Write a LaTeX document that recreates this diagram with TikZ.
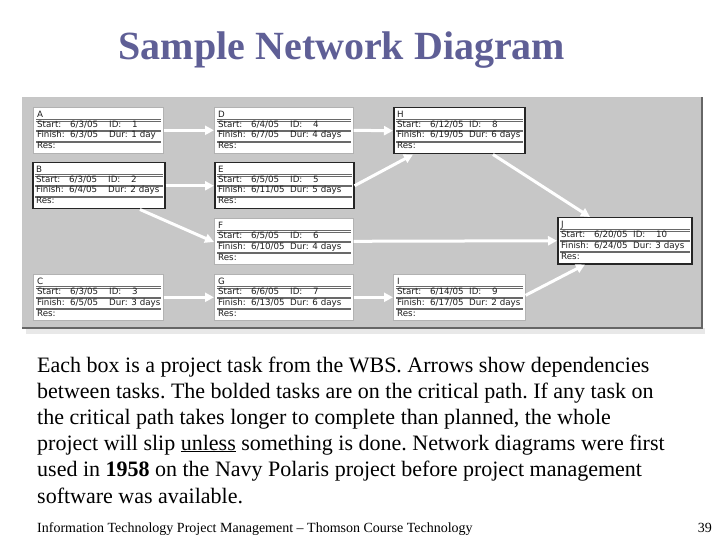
\documentclass[tikz,border=0pt]{standalone}
\usepackage{fontspec}
\setmainfont{Liberation Serif}
\newfontfamily\boxfont{DejaVu Sans}
\usetikzlibrary{arrows.meta}
\definecolor{titleblue}{RGB}{95,95,150}
\definecolor{panelgray}{RGB}{199,199,199}
\definecolor{boxtext}{RGB}{30,30,30}
\definecolor{sepgray}{RGB}{105,105,105}
\tikzset{
  taskframe/.style={draw=gray!60, line width=0.6pt, fill=white, minimum height=46pt, inner sep=0pt},
  critical/.style={draw=black!85, line width=1.5pt},
  boxtxt/.style={anchor=base west, inner sep=0pt, text=boxtext, font=\boxfont\fontsize{8.7}{10}\selectfont},
  sepline/.style={draw=sepgray, line width=0.5pt},
  arr/.style={draw=white, line width=3pt, -{Triangle[width=9pt,length=9pt]}},
  body/.style={anchor=base west, inner sep=0pt, font=\frenchspacing\fontsize{22}{24}\selectfont},
}
\newcommand\taskbox[9][]{%
  \node[taskframe,#1,minimum width=#4,anchor=north west] (#2) at #3 {};
  \node[boxtxt] (#2-l) at ([shift={(4,10.6)}]#2.north west) {#5};
  \draw[sepline] ([shift={(3,12.6)}]#2.north west) -- ([shift={(-3,12.6)}]#2.north east);
  \draw[sepline] ([shift={(3,13.8)}]#2.north west) -- ([shift={(-3,13.8)}]#2.north east);
  \node[boxtxt] (#2-s) at ([shift={(4,20.4)}]#2.north west) {Start:};
  \node[boxtxt] (#2-sd) at ([shift={(37,20.4)}]#2.north west) {#6};
  \node[boxtxt] (#2-i) at ([shift={(76,20.4)}]#2.north west) {ID:};
  \node[boxtxt] (#2-iv) at ([shift={(99,20.4)}]#2.north west) {#7};
  \draw[sepline] ([shift={(3,23)}]#2.north west) -- ([shift={(-3,23)}]#2.north east);
  \draw[sepline] ([shift={(3,24.2)}]#2.north west) -- ([shift={(-3,24.2)}]#2.north east);
  \node[boxtxt] (#2-f) at ([shift={(4,31)}]#2.north west) {Finish:};
  \node[boxtxt] (#2-fd) at ([shift={(37,31)}]#2.north west) {#8};
  \node[boxtxt] (#2-d) at ([shift={(76,31)}]#2.north west) {Dur: #9};
  \draw[sepline] ([shift={(3,34)}]#2.north west) -- ([shift={(-3,34)}]#2.north east);
  \draw[sepline] ([shift={(3,35.2)}]#2.north west) -- ([shift={(-3,35.2)}]#2.north east);
  \node[boxtxt] (#2-r) at ([shift={(4,42)}]#2.north west) {Res:};
}
\begin{document}
\begin{tikzpicture}[x=1pt,y=-1pt]
\useasboundingbox[fill=white] (0,0) rectangle (720,540);
% title
\node[anchor=base, inner sep=0pt, text=titleblue, font=\bfseries\fontsize{40}{42}\selectfont] (title) at (342,60) {Sample Network Diagram};
% panel
\fill[gray!18] (26,328) rectangle (705,334);
\fill[panelgray] (22,97) rectangle (702,328);
\draw[gray!45, line width=0.8pt] (22,328) -- (22,97) -- (702,97);
\draw[black!60, line width=1.1pt] (22,328) -- (702,328) -- (702,97);
% boxes
\taskbox{A}{(33,107)}{130pt}{A}{6/3/05}{1}{6/3/05}{1 day}
\taskbox[critical]{B}{(32,162)}{132pt}{B}{6/3/05}{2}{6/4/05}{2 days}
\taskbox{C}{(33,274)}{130pt}{C}{6/3/05}{3}{6/5/05}{3 days}
\taskbox{D}{(214,107)}{139pt}{D}{6/4/05}{4}{6/7/05}{4 days}
\taskbox[critical]{E}{(214,162)}{139pt}{E}{6/5/05}{5}{6/11/05}{5 days}
\taskbox{F}{(214,218)}{139pt}{F}{6/5/05}{6}{6/10/05}{4 days}
\taskbox{G}{(214,274)}{139pt}{G}{6/6/05}{7}{6/13/05}{6 days}
\taskbox[critical]{H}{(393,107)}{131pt}{H}{6/12/05}{8}{6/19/05}{6 days}
\taskbox{I}{(393,274)}{132pt}{I}{6/14/05}{9}{6/17/05}{2 days}
\taskbox[critical]{J}{(557,217)}{134pt}{J}{6/20/05}{10}{6/24/05}{3 days}
% arrows
\draw[arr] (A.east) -- (D.west);
\draw[arr] (D.east) -- (H.west);
\draw[arr] (B.east) -- (E.west);
\draw[arr] (E.east) -- ([shift={(20,0)}]H.south west);
\draw[arr] ([shift={(108,0)}]B.south west) -- ([shift={(0,24)}]F.north west);
\draw[arr] ([shift={(100,0)}]H.south west) -- ([shift={(33,0)}]J.north west);
\draw[arr] (F.east) -- (J.west);
\draw[arr] (C.east) -- (G.west);
\draw[arr] (G.east) -- (I.west);
\draw[arr] ([shift={(0,-2)}]I.east) -- ([shift={(28,0)}]J.south west);
% body text
\node[body] (t1) at (37,372) {Each box is a project task from the WBS. Arrows show dependencies};
\node[body] (t2) at (37,398) {between tasks. The bolded tasks are on the critical path. If any task on};
\node[body] (t3) at (37,424) {the critical path takes longer to complete than planned, the whole};
\node[body] (t4) at (37,450) {project will slip \underline{unless} something is done. Network diagrams were first};
\node[body] (t5) at (37,476.5) {used in \textbf{1958} on the Navy Polaris project before project management};
\node[body] (t6) at (37,503) {software was available.};
% footer
\node[anchor=base west, inner sep=0pt, font=\fontsize{14}{16}\selectfont] (foot) at (37,532) {Information Technology Project Management -- Thomson Course Technology};
\node[anchor=base east, inner sep=0pt, font=\fontsize{14}{16}\selectfont] (page) at (712,532) {39};
\end{tikzpicture}
\end{document}
